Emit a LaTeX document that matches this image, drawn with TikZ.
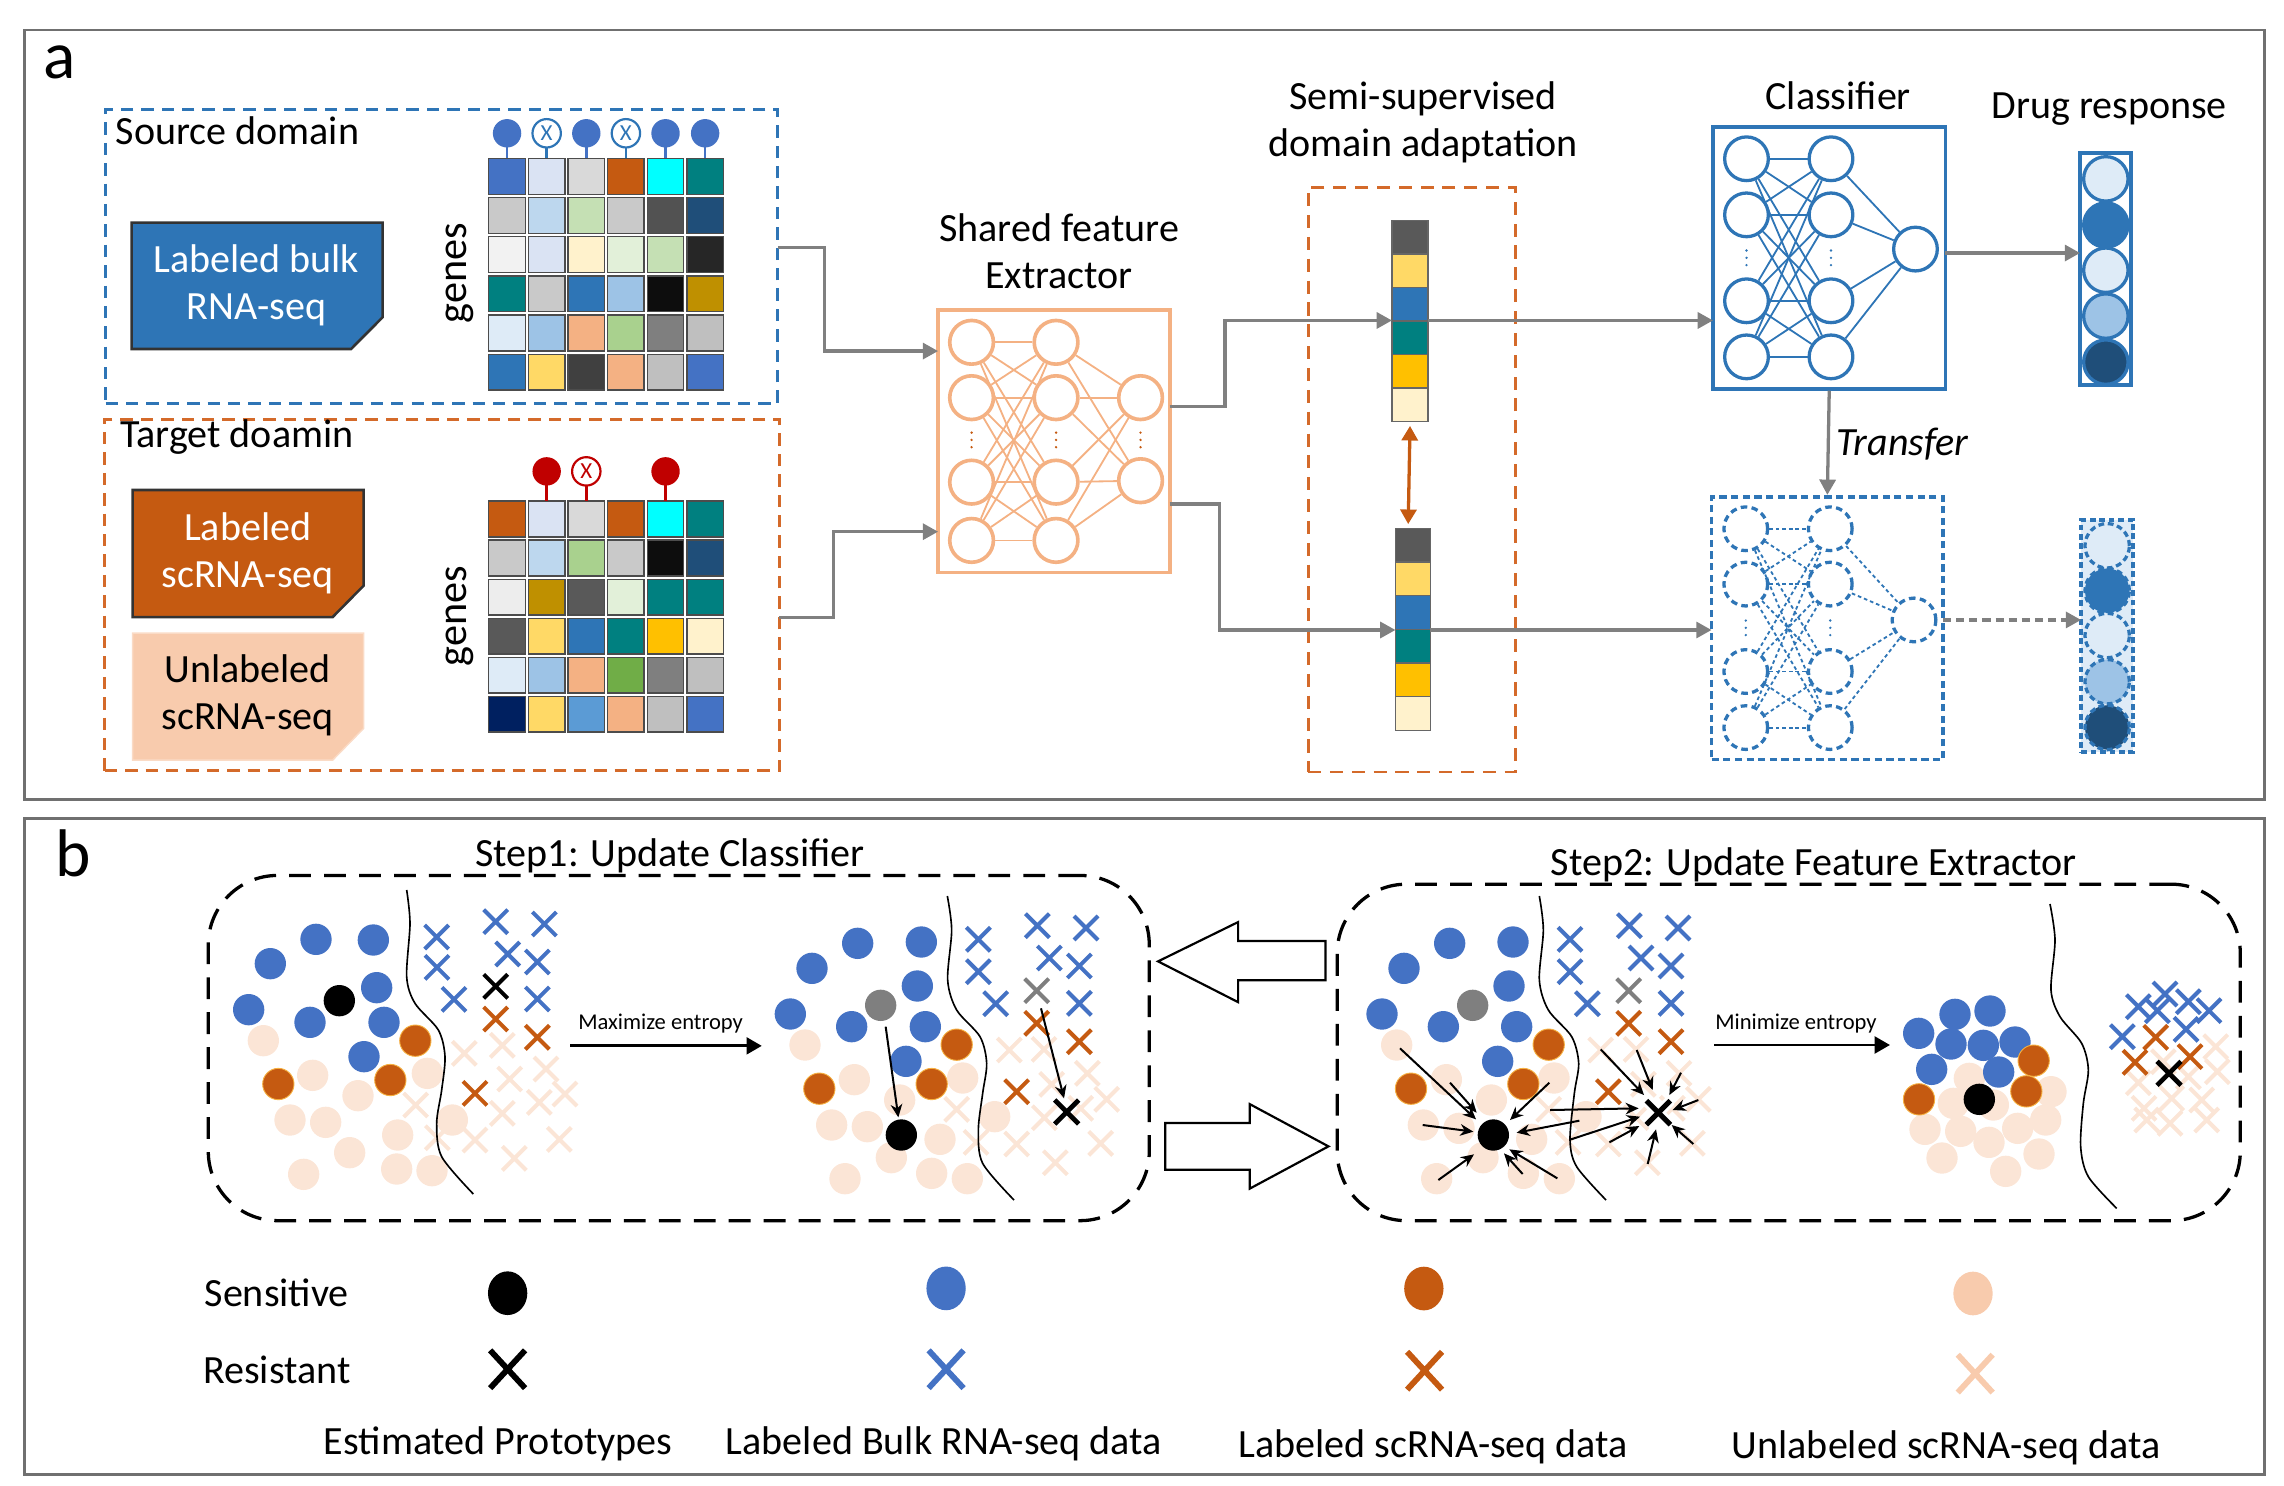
\documentclass[tikz,border=0pt]{standalone}
\usepackage{fontspec}
\setmainfont{Carlito}
\usetikzlibrary{arrows.meta,fit}
\definecolor{cblue}{HTML}{4472C4}
\definecolor{cdb}{HTML}{2E75B6}
\definecolor{cor}{HTML}{C55A11}
\definecolor{cpe}{HTML}{FBE5D6}
\definecolor{cpel}{HTML}{F8CBAD}
\definecolor{cfe}{HTML}{F4B183}
\definecolor{cgr}{HTML}{808080}
\definecolor{cfr}{HTML}{707070}
\definecolor{cred}{HTML}{C00000}
\definecolor{cdo}{HTML}{D46A2A}
\definecolor{cyel}{HTML}{F5B041}
\definecolor{clA}{HTML}{DEEBF7}
\definecolor{clB}{HTML}{9DC3E6}
\definecolor{clC}{HTML}{1F4E79}
\definecolor{cgy}{HTML}{7F7F7F}
\definecolor{fvA}{HTML}{595959}
\definecolor{fvB}{HTML}{FFD966}
\definecolor{fvD}{HTML}{008080}
\definecolor{fvE}{HTML}{FFC000}
\definecolor{fvF}{HTML}{FFF2CC}
\newcommand\ftmain{\fontsize{11pt}{13pt}\selectfont}
\newcommand\ftsmall{\fontsize{6.2pt}{7pt}\selectfont}
\newcommand\genemat[3]{%
 \foreach \row [count=\ri from 0] in {#3}{
  \foreach \c [count=\ki from 0] in \row {
   \edef\tmpdef{\noexpand\definecolor{tmpc}{HTML}{\c}}\tmpdef
   \filldraw[fill=tmpc, draw=black!70, line width=0.35pt] ({335.6+27.2*\ki},{#1+#2*\ri}) rectangle ++(25,24.6);
  }}}
\newcommand\pcirc[2]{\foreach \px/\py in {#2} \path[#1] (\px,\py) circle (47);}
\newcommand\pcross[2]{\foreach \px/\py in {#2} \draw[#1] (\px-36,\py-36) -- (\px+36,\py+36) (\px-36,\py+36) -- (\px+36,\py-36);}
\begin{document}
\begin{tikzpicture}[x=0.4pt,y=-0.4pt,
 every node/.style={inner sep=0pt, font=\ftmain},
 frame/.style={draw=cfr, line width=0.75pt},
 conn/.style={draw=cgr, line width=0.9pt, -{Triangle[length=4.2pt,width=4.4pt]}},
 feN/.style={circle, draw=cfe, line width=1pt, fill=white, minimum size=12pt},
 feL/.style={draw=cfe, line width=0.5pt},
 clN/.style={circle, draw=cdb, line width=0.9pt, fill=white, minimum size=12pt},
 clL/.style={draw=cdb, line width=0.5pt},
 cldN/.style={circle, draw=cdb, line width=0.9pt, dash pattern=on 1.8pt off 1.2pt, fill=white, minimum size=12pt},
 cldL/.style={draw=cdb, line width=0.5pt, dash pattern=on 1pt off 0.8pt},
 lpf/.style={circle, minimum size=7.8pt},
 lpx/.style={circle, minimum size=7.8pt, fill=white, line width=0.6pt, font=\fontsize{6.3pt}{7pt}\selectfont},
 bnd/.style={line width=0.45pt},
 xw/.style={line width=1.1pt},
 sarr/.style={-{Stealth[length=3.6pt,width=3.2pt]}, line width=0.55pt},
 bigarr/.style={line width=0.8pt, -{Triangle[length=4.2pt,width=4.6pt]}},
 stepbox/.style={draw=black, line width=0.9pt, dash pattern=on 6pt off 3.6pt, rounded corners=19pt}
]
\useasboundingbox (0,0) rectangle (1568,1020);
% ---------- frames
\node[frame, fit={(17,20.6)(1554.5,549)}] (pa) {};
\node[frame, fit={(17,562)(1554.5,1012.5)}] (pb) {};
\node[font=\fontsize{18.5pt}{20pt}\selectfont] (la) at (41,43) {a};
\node[font=\fontsize{18.5pt}{20pt}\selectfont] (lb) at (50,586) {b};
% ---------- source domain
\node[draw=cdb, line width=0.8pt, dash pattern=on 3.4pt off 2.2pt, fit={(72.5,75)(534,277)}] (src) {};
\node[anchor=west] (tsrc) at (79,90) {Source domain};
\path[fill=cdb, draw=black!80, line width=0.7pt] (90.4,152.9) -- (262.7,152.9) -- (262.7,217.8) -- (241,239.6) -- (90.4,239.6) -- cycle;
\node[text=white, align=center] (lbulk) at (176,196) {Labeled bulk\\RNA-seq};
\node[rotate=90, font=\fontsize{11.6pt}{12pt}\selectfont] (g1) at (316,187.5) {genes};
\genemat{108.7}{26.9}{{4472C4,DAE3F3,D9D9D9,C55A11,00FFFF,008080},{C9C9C9,BDD7EE,C5E0B4,C9C9C9,525252,1F4E79},{F2F2F2,DAE3F3,FFF2CC,E2F0D9,C5E0B4,262626},{008080,C9C9C9,2E75B6,9DC3E6,0D0D0D,BF9000},{DEEBF7,9DC3E6,F4B183,A9D18E,7F7F7F,BFBFBF},{2E75B6,FFD966,404040,F4B183,BFBFBF,4472C4}}
\foreach \k in {0,2,4,5}{
  \draw[cblue, line width=0.7pt] ({348.1+27.2*\k},100) -- ++(0,8.7);
  \node[lpf, fill=cblue] (slp\k) at ({348.1+27.2*\k},91.5) {};}
\foreach \k in {1,3}{
  \draw[cdb, line width=0.7pt] ({348.1+27.2*\k},100) -- ++(0,8.7);
  \node[lpx, draw=cdb, text=cdb] (slp\k) at ({348.1+27.2*\k},91.5) {X};}
% ---------- target domain
\node[draw=cdo, line width=0.8pt, dash pattern=on 3.4pt off 2.2pt, fit={(72,287.8)(535,529)}] (tgt) {};
\node[anchor=west] (ttgt) at (82,300) {Target doamin};
\path[fill=cor, draw=black!80, line width=0.7pt] (91,336.4) -- (249.7,336.4) -- (249.7,402) -- (228.4,423.6) -- (91,423.6) -- cycle;
\node[text=white, align=center] (lsc) at (170,380) {Labeled\\scRNA-seq};
\path[fill=cpel, draw=cpel!70!white, line width=0.4pt] (91,434.7) -- (249.7,434.7) -- (249.7,500) -- (228.4,521.8) -- (91,521.8) -- cycle;
\node[align=center] (usc) at (170,477.5) {Unlabeled\\scRNA-seq};
\node[rotate=90, font=\fontsize{11.6pt}{12pt}\selectfont] (g2) at (316,423) {genes};
\genemat{344}{26.8}{{C55A11,DAE3F3,D9D9D9,C55A11,00FFFF,008080},{C9C9C9,BDD7EE,A9D18E,C9C9C9,0D0D0D,1F4E79},{EDEDED,BF9000,595959,E2F0D9,008080,008080},{595959,FFD966,2E75B6,008080,FFC000,FFF2CC},{DEEBF7,9DC3E6,F4B183,70AD47,7F7F7F,BFBFBF},{002060,FFD966,5B9BD5,F4B183,BFBFBF,4472C4}}
\foreach \k in {1,4}{
  \draw[cred, line width=0.7pt] ({348.1+27.2*\k},332) -- ++(0,12);
  \node[lpf, fill=cred] (tlp\k) at ({348.1+27.2*\k},323.6) {};}
\foreach \k in {2}{
  \draw[cred, line width=0.7pt] ({348.1+27.2*\k},332) -- ++(0,12);
  \node[lpx, draw=cred, text=cred] (tlp\k) at ({348.1+27.2*\k},323.6) {X};}
% ---------- shared feature extractor
\node[align=center] (tfe) at (727,172.5) {Shared feature\\Extractor};
\node[draw=cfe, line width=1pt, fit={(644,213)(803,393)}] (fe) {};
\foreach \y [count=\i] in {235,273,331,371}{
  \node[feN] (fa\i) at (667,\y) {};
  \node[feN] (fb\i) at (725,\y) {};}
\foreach \y [count=\i] in {273,330} \node[feN] (fc\i) at (783,\y) {};
\foreach \i in {1,...,4}{
  \foreach \j in {1,...,4} \draw[feL] (fa\i) -- (fb\j);
  \foreach \j in {1,2} \draw[feL] (fb\i) -- (fc\j);}
\foreach \x in {667,725,783} \foreach \d in {-5,0,5} \fill[cor] (\x,302+\d) circle (0.9);
% ---------- semi-supervised DA
\node[align=center] (tsemi) at (977,84) {Semi-supervised\\domain adaptation};
\node[draw=cdo, line width=0.8pt, dash pattern=on 3.6pt off 2.4pt, fit={(898,128.8)(1040.5,530)}] (semi) {};
\foreach \c [count=\ki from 0] in {fvA,fvB,cdb,fvD,fvE,fvF}{
  \filldraw[fill=\c, draw=black!60, line width=0.35pt] (955.6,{151.4+23*\ki}) rectangle ++(24.8,23);
  \filldraw[fill=\c, draw=black!60, line width=0.35pt] (958,{362.8+23.1*\ki}) rectangle ++(24,23.1);}
\node[fit={(955.6,151.4)(980.4,289.4)}] (fv1) {};
\node[fit={(958,362.8)(982,501.4)}] (fv2) {};
\draw[cor, line width=0.9pt, {Triangle[length=4pt,width=4.4pt]}-{Triangle[length=4pt,width=4.4pt]}] ([yshift=-1pt]fv1.south) -- ([xshift=-0.5pt,yshift=1pt]fv1.south |- fv2.north);
% ---------- classifier
\node (tcls) at (1262,65.5) {Classifier};
\node[draw=cdb, line width=1pt, fit={(1176,87.2)(1335.6,267)}] (cls) {};
\foreach \y [count=\i] in {109,147.5,206.5,245}{
  \node[clN] (ca\i) at (1199,\y) {};
  \node[clN] (cb\i) at (1257,\y) {};}
\node[clN] (cc1) at (1315,171) {};
\foreach \i in {1,...,4}{
  \foreach \j in {1,...,4} \draw[clL] (ca\i) -- (cb\j);
  \draw[clL] (cb\i) -- (cc1);}
\foreach \x in {1199,1257} \foreach \d in {-5,0,5} \fill[cdb] (\x,177+\d) circle (0.9);
% ---------- transferred classifier
\node[draw=cdb, line width=1pt, dash pattern=on 2pt off 1.2pt, fit={(1175,341)(1334,521.4)}] (cls2) {};
\foreach \y [count=\i] in {363,401,461,499.5}{
  \node[cldN] (da\i) at (1198.5,\y) {};
  \node[cldN] (db\i) at (1256.5,\y) {};}
\node[cldN] (dc1) at (1314,425.6) {};
\foreach \i in {1,...,4}{
  \foreach \j in {1,...,4} \draw[cldL] (da\i) -- (db\j);
  \draw[cldL] (db\i) -- (dc1);}
\foreach \x in {1198.5,1256.5} \foreach \d in {-5,0,5} \fill[cdb] (\x,431+\d) circle (0.9);
% ---------- drug response
\node (tdr) at (1448,75.2) {Drug response};
\node[draw=cdb, line width=1.1pt, fill=white, fit={(1428,105.3)(1463,264.6)}] (dr1) {};
\foreach \y/\c [count=\i] in {122.8/clA,154.5/cdb,185.5/clA,217/clB,248.6/clC}
  \node[circle, draw=cdb, line width=0.9pt, fill=\c, minimum size=12.2pt] (dra\i) at (1445.7,\y) {};
\node[draw=cdb, line width=1.1pt, dash pattern=on 1.6pt off 1pt, fill=clA, fit={(1428.7,357)(1464.5,516.3)}] (dr2) {};
\foreach \y/\c [count=\i] in {374.7/clA,405.5/cdb,436.3/clA,468/clB,499.4/clC}
  \node[circle, draw=cdb, line width=0.9pt, dash pattern=on 1.6pt off 1pt, fill=\c, minimum size=12.2pt] (drb\i) at (1446.6,\y) {};
% ---------- connectors
\coordinate (srcOut) at (534,170);
\coordinate (feIn1) at (644,241);
\coordinate (tgtOut) at (535,424);
\coordinate (feIn2) at (644,365);
\coordinate (feOut1) at (803,279);
\coordinate (fvIn1) at (955.6,220);
\coordinate (feOut2) at (803,346);
\coordinate (fvIn2) at (958,432.5);
\coordinate (fvOut1) at (980.4,220);
\coordinate (clsIn1) at (1176,220);
\coordinate (fvOut2) at (982,432.5);
\coordinate (clsIn2) at (1175,432.5);
\coordinate (clsOut) at (1335.6,173.7);
\coordinate (drIn1) at (1428,173.7);
\coordinate (cls2Out) at (1334,425.6);
\coordinate (drIn2) at (1428.7,425.6);
\draw[conn] (srcOut) -- ++(32,0) |- (feIn1);
\draw[conn] (tgtOut) -- ++(37,0) |- (feIn2);
\draw[conn] (feOut1) -- ++(38,0) |- (fvIn1);
\draw[conn] (feOut2) -- ++(34,0) |- (fvIn2);
\draw[conn] (fvOut1) -- (clsIn1);
\draw[conn] (fvOut2) -- (clsIn2);
\draw[conn] (clsOut) -- (drIn1);
\draw[conn, dash pattern=on 2.2pt off 1.4pt] (cls2Out) -- (drIn2);
\draw[conn] (cls.south) -- (cls2.north);
\node[anchor=west, font=\ftmain\itshape] (ttr) at (1260,305) {Transfer};
% ================= panel b
\node[stepbox, fit={(143,601)(789,838)}] (s1box) {};
\node[stepbox, fit={(918,607)(1538,838)}] (s2box) {};
\node[anchor=base] (ts1) at (460,595) {Step1: Update Classifier};
\node[anchor=base] (ts2) at (1245,601) {Step2: Update Feature Extractor};
% hollow arrows
\path[draw=black, line width=0.6pt, fill=white] (910,646) -- (850,646) -- (850,633) -- (795,660) -- (850,688) -- (850,673) -- (910,673) -- cycle;
\path[draw=black, line width=0.6pt, fill=white] (800,771) -- (858,771) -- (858,758) -- (912,787) -- (858,816) -- (858,803) -- (800,803) -- cycle;
% entropy arrows
\coordinate (mx1) at (391.5,718); \coordinate (mx2) at (523,718);
\draw[bigarr] (mx1) -- (mx2);
\node[font=\ftsmall] (tmax) at (453.5,703) {Maximize entropy};
\coordinate (mn1) at (1176.7,717.4); \coordinate (mn2) at (1297.5,717.4);
\draw[bigarr] (mn1) -- (mn2);
\node[font=\ftsmall] (tmin) at (1233,702.4) {Minimize entropy};
% ---- scatter 1
\begin{scope}[shift={(147.60,611.0)},x=0.091535pt,y=-0.091535pt]
\pcirc{fill=cpe}{145/452, 293/556, 429/617, 637/550, 225/690, 332/697, 548/735, 712/690, 404/788, 545/837, 651/842, 266/853}
\pcross{xw,cpe}{748/490, 862/466, 993/537, 884/567, 602/645, 973/637, 1050/612, 862/670, 667/743, 780/750, 1033/748, 898/805}
\pcirc{fill=cblue}{303/148, 475/150, 166/221, 485/293, 101/359, 285/397, 507/397, 447/500}
\pcirc{fill=cor, draw=cyel, line width=0.25pt}{601/452, 190/582, 526/570}
\pcirc{fill=black}{373/332}
\pcross{xw,cblue}{665/141, 842/95, 988/102, 878/192, 666/232, 967/216, 717/328, 967/327}
\pcross{xw,cor}{842/387, 967/442, 780/610}
\pcross{xw,black}{842/289}
\draw[bnd] plot[smooth] coordinates {(575,0) (585,100) (575,260) (600,340) (670,420) (690,500) (680,600) (665,700) (680,800) (775,912)};
\end{scope}
% ---- scatter 2
\begin{scope}[shift={(521.75,611.0)},x=0.091535pt,y=-0.091535pt]
\pcirc{fill=cpe}{135/465, 283/569, 419/630, 608/564, 215/705, 322/710, 540/748, 704/680, 394/803, 515/850, 622/866, 255/866}
\pcross{xw,cpe}{748/480, 852/478, 982/550, 875/583, 590/658, 962/655, 1040/628, 853/683, 648/757, 770/762, 1022/760, 886/818}
\pcirc{fill=cblue}{293/160, 484/156, 156/235, 472/288, 91/372, 275/410, 496/410, 438/514}
\pcirc{fill=cgy}{362/346}
\pcirc{fill=cor, draw=cyel, line width=0.25pt}{590/464, 178/596, 515/582}
\pcirc{fill=black}{424/735}
\pcross{xw,cblue}{655/148, 832/107, 978/114, 868/204, 655/245, 958/228, 707/341, 958/340}
\pcross{xw,cgy}{830/302}
\pcross{xw,cor}{830/400, 958/455, 770/605}
\pcross{line width=1.3pt,black}{920/666}
\draw[sarr] (377,410) -- (415,682);
\draw[sarr] (843,355) -- (912,625);
\draw[bnd] plot[smooth] coordinates {(562,18) (575,120) (563,270) (590,360) (660,440) (680,520) (668,610) (655,720) (668,820) (762,930)};
\end{scope}
% ---- scatter 3
\begin{scope}[shift={(926.80,611.0)},x=0.091535pt,y=-0.091535pt]
\pcirc{fill=cpe}{140/465, 289/569, 424/630, 612/564, 220/705, 327/715, 545/748, 708/680, 399/803, 520/850, 628/866, 260/866}
\pcross{xw,cpe}{752/480, 858/478, 987/550, 880/583, 596/658, 967/655, 1045/628, 858/683, 654/757, 775/762, 1027/760, 892/818}
\pcirc{fill=cblue}{299/160, 489/156, 162/235, 477/288, 96/372, 280/410, 500/410, 443/514}
\pcirc{fill=cgy}{368/346}
\pcirc{fill=cor, draw=cyel, line width=0.25pt}{596/464, 183/596, 520/582}
\pcirc{fill=black}{430/735}
\pcross{xw,cblue}{660/148, 838/107, 984/114, 873/204, 660/245, 963/228, 712/341, 963/340}
\pcross{xw,cgy}{836/302}
\pcross{xw,cor}{836/400, 963/455, 775/605}
\pcross{line width=3pt,white}{925/668}
\pcross{line width=1.4pt,black}{925/668}
\foreach \ax/\ay/\bx/\by in {150/475/378/688, 300/578/380/668, 598/578/480/690, 218/705/370/725, 688/692/500/728, 265/870/372/793, 518/852/462/790, 622/865/478/778, 600/660/866/655, 663/748/870/680, 752/478/882/615, 860/480/908/600, 993/548/958/615, 1045/630/968/660, 1030/762/965/705, 893/822/918/718, 778/757/868/708}
  \draw[sarr] (\ax,\ay) -- (\bx,\by);
\draw[bnd] plot[smooth] coordinates {(568,18) (580,120) (568,270) (595,360) (665,440) (686,520) (673,610) (660,750) (680,830) (768,930)};
\end{scope}
% ---- scatter 4
\begin{scope}[shift={(1283.78,611.0)},x=0.091535pt,y=-0.091535pt]
\pcirc{fill=cpe}{298/565, 250/640, 370/645, 543/605, 165/718, 272/724, 357/757, 443/715, 527/690, 216/804, 407/844, 507/792}
\pcirc{fill=cblue}{255/373, 360/363, 146/430, 243/462, 340/466, 435/456, 185/538, 386/546}
\pcirc{fill=cor, draw=cyel, line width=0.25pt}{491/512, 147/628, 469/604}
\pcirc{fill=black}{328/628}
\pcross{xw,cpe}{1037/470, 1042/545, 880/515, 955/560, 805/578, 905/625, 822/655, 995/630, 1010/690, 900/700, 830/690}
\pcross{xw,cblue}{805/350, 885/312, 955/335, 1017/362, 862/362, 757/440, 948/418}
\pcross{xw,cor}{857/442, 795/517, 960/500}
\pcross{line width=1.3pt,black}{897/550}
\draw[bnd] plot[smooth] coordinates {(540,42) (555,150) (543,300) (570,380) (635,460) (655,540) (640,640) (632,770) (655,860) (740,955)};
\end{scope}
% ---------- legend
\node[anchor=west] (lsen) at (140,887.8) {Sensitive};
\node[anchor=west] (lres) at (139,940.5) {Resistant};
\fill[black] (348.5,887.8) ellipse [x radius=13.5, y radius=15];
\fill[cblue] (649.5,884.5) ellipse [x radius=13.5, y radius=15];
\fill[cor] (977.5,884.6) ellipse [x radius=13.5, y radius=15];
\fill[cpel] (1354.5,888) ellipse [x radius=13.5, y radius=15];
\foreach \cx/\cy/\cc in {348.5/940/black, 649.5/940/cblue, 978/941/cor, 1356/943/cpel}
  \draw[\cc, line width=1.6pt] (\cx-12,\cy-13) -- (\cx+12,\cy+13) (\cx-12,\cy+13) -- (\cx+12,\cy-13);
\node (lg1) at (342,991) {Estimated Prototypes};
\node (lg2) at (648,991) {Labeled Bulk RNA-seq data};
\node (lg3) at (984,993) {Labeled scRNA-seq data};
\node (lg4) at (1336,994) {Unlabeled scRNA-seq data};
\end{tikzpicture}
\end{document}
